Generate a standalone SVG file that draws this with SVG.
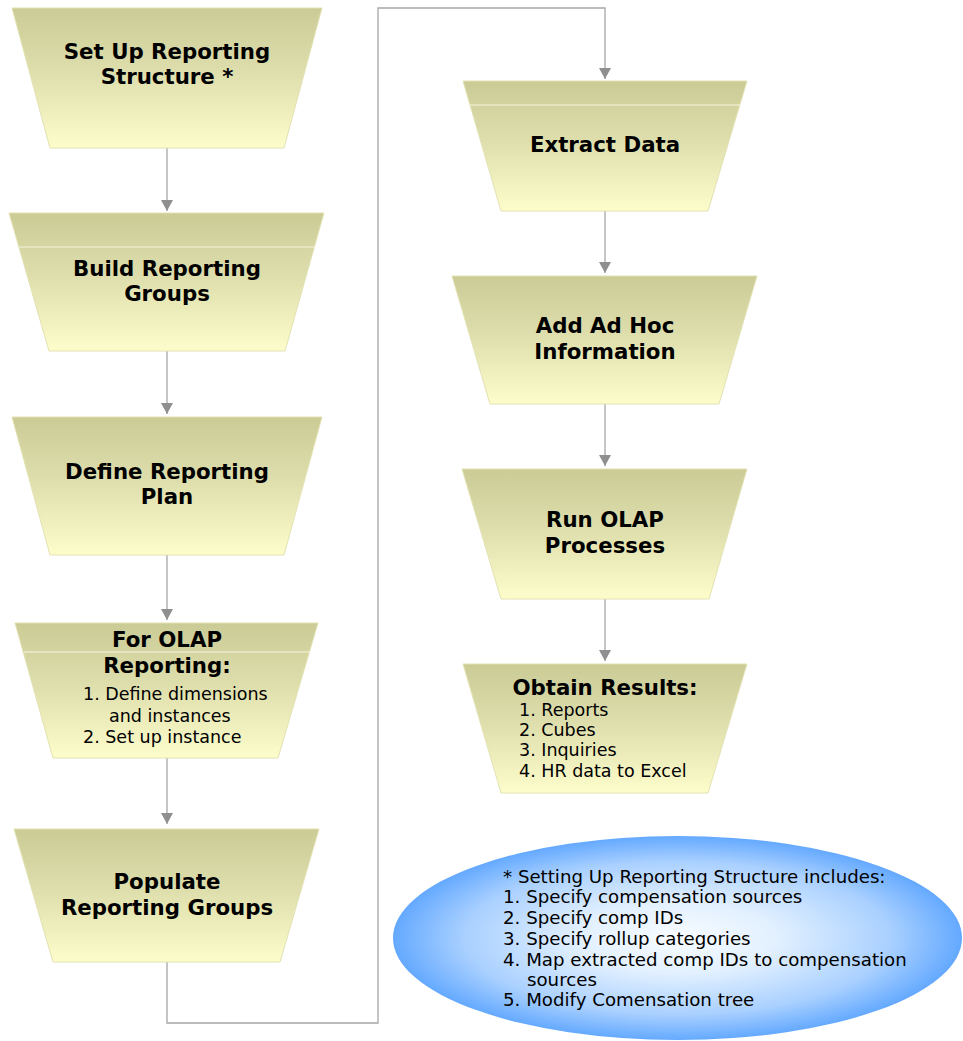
<svg xmlns="http://www.w3.org/2000/svg" width="963" height="1041" viewBox="0 0 963 1041">
<defs>
<linearGradient id="trap" x1="0" y1="0" x2="0" y2="1">
<stop offset="0" stop-color="#cbcb96"/>
<stop offset="0.45" stop-color="#dedead"/>
<stop offset="1" stop-color="#fdfdcb"/>
</linearGradient>
<radialGradient id="ell" cx="0.5" cy="0.5" r="0.5">
<stop offset="0" stop-color="#f8fcff"/>
<stop offset="0.35" stop-color="#e2f0ff"/>
<stop offset="0.75" stop-color="#a9d0ff"/>
<stop offset="1" stop-color="#64a9ff"/>
</radialGradient>
<marker id="arr" markerUnits="userSpaceOnUse" markerWidth="12" markerHeight="13" refX="11" refY="6" orient="auto">
<path d="M0,0 L11,6 L0,12 Z" fill="#8f8f8f"/>
</marker>
<style>
.t{fill:url(#trap);stroke:#e2e2b4;stroke-width:1}
.band{stroke:#f4f4dc;stroke-width:1.2}
.h{font-family:"DejaVu Sans",Verdana,sans-serif;font-weight:bold;font-size:21.3px;fill:#000;text-anchor:middle}
.r{font-family:"DejaVu Sans",Verdana,sans-serif;font-size:17.5px;fill:#000}
.e{font-family:"DejaVu Sans",Verdana,sans-serif;font-size:18.2px;fill:#000}
.c{fill:none;stroke:#a6a6a6;stroke-width:1.3}
.ca{fill:none;stroke:#a6a6a6;stroke-width:1.3;marker-end:url(#arr)}
</style>
</defs>
<g id="connectors">
<line class="ca" x1="167" y1="148" x2="167" y2="211"/>
<line class="ca" x1="167" y1="351" x2="167" y2="414"/>
<line class="ca" x1="167" y1="555" x2="167" y2="620"/>
<line class="ca" x1="167" y1="758" x2="167" y2="824"/>
<polyline class="ca" points="167,962 167,1023 378,1023 378,8 605,8 605,79"/>
<line class="ca" x1="605" y1="211" x2="605" y2="273"/>
<line class="ca" x1="605" y1="404" x2="605" y2="466"/>
<line class="ca" x1="605" y1="599" x2="605" y2="661"/>
</g>
<g id="n1">
<polygon class="t" points="12,8 322,8 284,148 50,148"/>
<text class="h" x="167" y="59">Set Up Reporting</text>
<text class="h" x="167" y="84">Structure *</text>
</g>
<g id="n2">
<polygon class="t" points="9,213 324,213 285,351 49,351"/>
<line class="band" x1="19" y1="247" x2="315" y2="247"/>
<text class="h" x="167" y="276">Build Reporting</text>
<text class="h" x="167" y="301">Groups</text>
</g>
<g id="n3">
<polygon class="t" points="12,417 322,417 284,555 50,555"/>
<text class="h" x="167" y="479">Define Reporting</text>
<text class="h" x="167" y="504">Plan</text>
</g>
<g id="n4">
<polygon class="t" points="15,623 318,623 278,758 53,758"/>
<line class="band" x1="24" y1="652" x2="310" y2="652"/>
<text class="h" x="167" y="647">For OLAP</text>
<text class="h" x="167" y="673">Reporting:</text>
<text class="r" x="83" y="700">1. Define dimensions</text>
<text class="r" x="109" y="722">and instances</text>
<text class="r" x="83" y="743">2. Set up instance</text>
</g>
<g id="n5">
<polygon class="t" points="14,829 319,829 280,962 53,962"/>
<text class="h" x="167" y="889">Populate</text>
<text class="h" x="167" y="915">Reporting Groups</text>
</g>
<g id="r1">
<polygon class="t" points="463,81 747,81 708,211 501,211"/>
<line class="band" x1="470" y1="105" x2="740" y2="105"/>
<text class="h" x="605" y="152">Extract Data</text>
</g>
<g id="r2">
<polygon class="t" points="452,276 757,276 719,404 490,404"/>
<text class="h" x="605" y="333">Add Ad Hoc</text>
<text class="h" x="605" y="359">Information</text>
</g>
<g id="r3">
<polygon class="t" points="462,469 747,469 709,599 501,599"/>
<text class="h" x="605" y="527">Run OLAP</text>
<text class="h" x="605" y="553">Processes</text>
</g>
<g id="r4">
<polygon class="t" points="463,664 747,664 708,793 501,793"/>
<text class="h" x="605" y="695">Obtain Results:</text>
<text class="r" x="519" y="716">1. Reports</text>
<text class="r" x="519" y="736">2. Cubes</text>
<text class="r" x="519" y="756">3. Inquiries</text>
<text class="r" x="519" y="777">4. HR data to Excel</text>
</g>
<g id="note">
<ellipse cx="677.5" cy="938" rx="284.5" ry="102" fill="url(#ell)"/>
<text class="e" x="503" y="883">* Setting Up Reporting Structure includes:</text>
<text class="e" x="503" y="903">1. Specify compensation sources</text>
<text class="e" x="503" y="924">2. Specify comp IDs</text>
<text class="e" x="503" y="945">3. Specify rollup categories</text>
<text class="e" x="503" y="966">4. Map extracted comp IDs to compensation</text>
<text class="e" x="527" y="986">sources</text>
<text class="e" x="503" y="1006">5. Modify Comensation tree</text>
</g>
</svg>
